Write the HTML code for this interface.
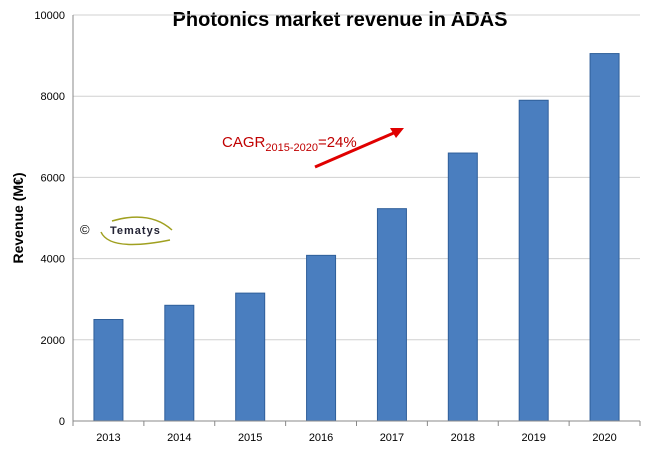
<!DOCTYPE html>
<html><head><meta charset="utf-8"><style>
body{margin:0;background:#fff;}
svg{display:block;font-family:"Liberation Sans",sans-serif;}
</style></head><body>
<svg id="chart" width="655" height="454">
<text x="340" y="26" text-anchor="middle" font-size="20" font-weight="bold" fill="#000">Photonics market revenue in ADAS</text>
<text transform="translate(23,218) rotate(-90)" text-anchor="middle" font-size="14" font-weight="bold" fill="#000">Revenue (M€)</text>
<g id="grid"></g><g id="bars"></g><g id="axes"></g>
<g>
<text x="222" y="147" font-size="15" fill="#c00000">CAGR<tspan font-size="11" dy="4">2015-2020</tspan><tspan dy="-4">=24%</tspan></text>
<line x1="315" y1="167" x2="396" y2="132" stroke="#e00000" stroke-width="3"/>
<polygon points="404,128 390,128 396,138" fill="#e00000"/>
</g>
<g>
<text x="80" y="234" font-size="13" fill="#000">©</text>
<path d="M101,232 Q110,252 170,240 M112,221 Q150,210 172,230" stroke="#a0a020" stroke-width="1.5" fill="none"/>
<text x="110" y="234" font-size="11" font-weight="bold" fill="#223" letter-spacing="1">Tematys</text>
</g>
</svg>
<script>
const categories=["2013","2014","2015","2016","2017","2018","2019","2020"];
const revenue=[2500,2850,3150,4080,5230,6600,7900,9050];
const yTicks=[0,2000,4000,6000,8000,10000];
const ns="http://www.w3.org/2000/svg";
const L=73,R=640,T=15,B=421,yMax=10000;
const y=v=>B-(v/yMax)*(B-T);
const bw=(R-L)/categories.length;
const x=i=>L+bw*(i+0.5);
function mk(p,tag,a){const e=document.createElementNS(ns,tag);for(const k in a)e.setAttribute(k,a[k]);document.getElementById(p).appendChild(e);return e;}
yTicks.forEach(t=>{
 if(t>0){const g=mk("grid","line",{x1:L,x2:R,y1:y(t),y2:y(t),stroke:"#d0d0d0","stroke-width":1});
 
 }
 const tx=mk("axes","text",{x:L-8,y:y(t)+4,"text-anchor":"end","font-size":11,fill:"#000"});tx.textContent=t;
 
 
});
revenue.forEach((v,i)=>{
 const r=mk("bars","rect",{x:x(i)-14.5,y:y(v),width:29,height:B-y(v),fill:"#4a7ebf",stroke:"#2f5f9a","stroke-width":1});
 
 
 const t=mk("axes","text",{x:x(i),y:B+20,"text-anchor":"middle","font-size":11,fill:"#000"});t.textContent=categories[i];
 
 
});
for(let i=0;i<=categories.length;i++){mk("axes","line",{x1:L+bw*i,x2:L+bw*i,y1:B,y2:B+5,stroke:"#888"});}
const ax=mk("axes","line",{x1:L,x2:R,y1:B,y2:B,stroke:"#888"});


const ay=mk("axes","line",{x1:L,x2:L,y1:T,y2:B,stroke:"#888"});


</script>
</body></html>
